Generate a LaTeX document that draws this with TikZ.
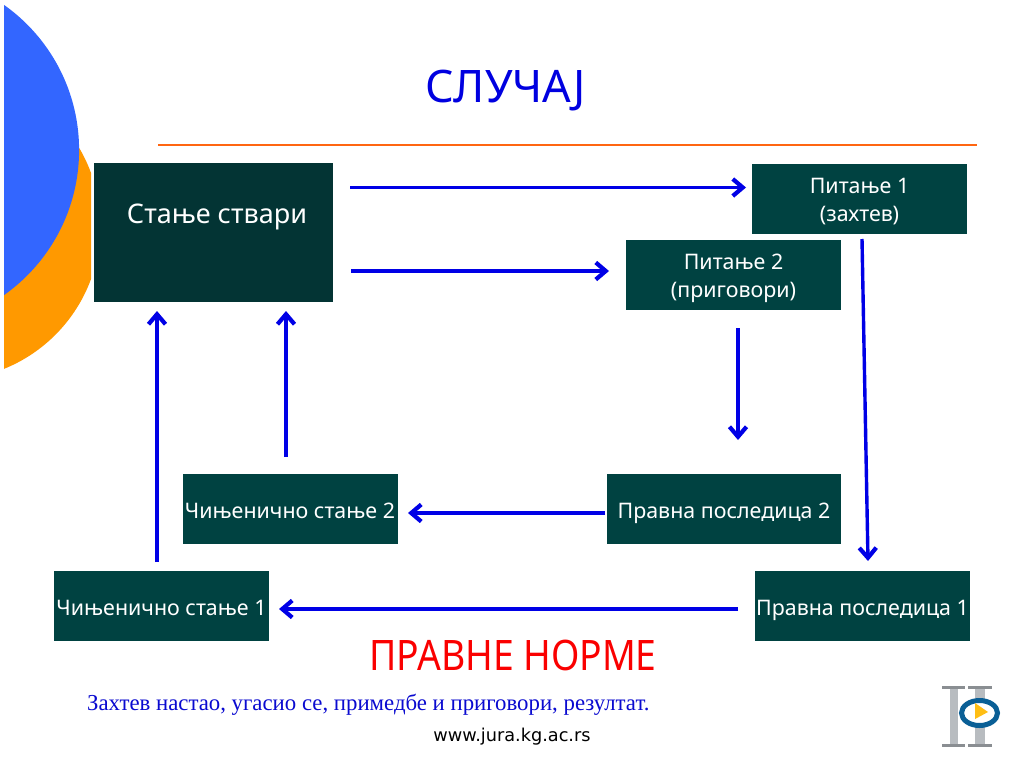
\documentclass[tikz,border=0pt]{standalone}
\usepackage{fontspec}
\setmainfont{Noto Sans}
\newfontfamily\serifcyr{Liberation Serif}
\newfontfamily\verdanaish{DejaVu Sans}
\usetikzlibrary{arrows.meta}
\definecolor{tealbox}{HTML}{004241}
\definecolor{darkbox}{HTML}{033434}
\definecolor{orangeblob}{HTML}{FF9900}
\definecolor{blueblob}{HTML}{3366FF}
\definecolor{ruleorange}{HTML}{FF6611}
\definecolor{arrowblue}{HTML}{0000E6}
\definecolor{titleblue}{HTML}{0000E0}
\definecolor{normred}{HTML}{FA0000}
\definecolor{notenavy}{HTML}{0A0AD0}
\definecolor{logoblue}{HTML}{0A5F96}
\definecolor{logogold}{HTML}{FFBE14}
\definecolor{logogray}{HTML}{B8BCC0}
\definecolor{logodark}{HTML}{8A8E92}
\newcommand{\dropone}{\rule[-6pt]{0pt}{30pt}}
\newcommand{\droptwo}{\rule{0pt}{22pt}}
\tikzset{
  flowbox/.style={fill=tealbox,text=white,minimum height=70pt,inner sep=0pt,align=center,font=\fontsize{21.4}{28}\selectfont,anchor=center},
  flow/.style={draw=arrowblue,line width=3.4pt,-{Straight Barb[length=10pt,width=17pt,line width=4.2pt]}},
}
\begin{document}
\begin{tikzpicture}[x=1pt,y=-1pt]
\useasboundingbox (0,0) rectangle (1024,768);
\fill[white] (0,0) rectangle (1024,768);
% decorative shapes
\begin{scope}
\clip (4,0) rectangle (91,768);
\fill[orangeblob] (-53.6,226) circle[radius=154];
\end{scope}
\begin{scope}
\clip (4,0) rectangle (200,768);
\fill[blueblob] (-98.6,150) circle[radius=177.7];
\end{scope}
% title and rule
\node[text=titleblue,font=\fontsize{44.8}{50}\selectfont] (title) at (505.5,91) {СЛУЧАЈ};
\coordinate (ruleL) at (158,145);
\coordinate (ruleR) at (977,145);
\draw[ruleorange,line width=2.4pt] (ruleL) -- (ruleR);
% boxes
\node[fill=darkbox,minimum width=239pt,minimum height=139pt,inner sep=0pt] (state) at (213.5,232.5) {};
\node[text=white,font=\fontsize{27}{32}\selectfont] (statetext) at (217,217) {Стање ствари};
\node[flowbox,minimum width=215pt] (q1) at (859.5,198.5) {\droptwo Питање 1\\(захтев)};
\node[flowbox,minimum width=215pt] (q2) at (733.5,275) {\droptwo Питање 2\\(приговори)};
\node[flowbox,minimum width=234pt] (l2) at (724,509) {\dropone Правна последица 2};
\node[flowbox,minimum width=215pt] (l1) at (862.5,606) {\dropone Правна последица 1};
\node[flowbox,minimum width=215pt] (f2) at (290,509) {\dropone Чињенично стање 2};
\node[flowbox,minimum width=215pt] (f1) at (161.5,606) {\dropone Чињенично стање 1};
% connectors
\coordinate (a1s) at (350,187.5);
\coordinate (a1e) at (746,187.5);
\coordinate (a2s) at (351,271);
\coordinate (a2e) at (609,271);
\coordinate (a3s) at (738,328);
\coordinate (a3e) at (738,440);
\coordinate (a4s) at (862,239);
\coordinate (a4e) at (868,561);
\coordinate (a5s) at (605,513);
\coordinate (a5e) at (408,513);
\coordinate (a6s) at (738,609);
\coordinate (a6e) at (279,609);
\coordinate (a7s) at (157,562);
\coordinate (a7e) at (157,311);
\coordinate (a8s) at (286,457);
\coordinate (a8e) at (286,311);
\foreach \i in {1,...,8} \draw[flow] (a\i s) -- (a\i e);
% labels
\node[text=normred,font=\fontsize{42}{48}\selectfont] (norms) at (513,655) {\scalebox{.888}[1]{ПРАВНЕ НОРМЕ}};
\node[text=notenavy,font=\serifcyr\fontsize{22.8}{27}\selectfont,anchor=west,inner sep=0pt] (note) at (87,705) {Захтев настао, угасио се, примедбе и приговори, резултат.};
\node[text=black,font=\verdanaish\fontsize{17.7}{20}\selectfont] (url) at (512,737) {www.jura.kg.ac.rs};
% logo
\fill[logogray] (950,689) -- (958,689) -- (958,744) -- (950,744) -- cycle;
\fill[logogray] (975,689) -- (985,689) -- (985,744) -- (975,744) -- cycle;
\fill[logodark] (942,686) rectangle (965,689);
\fill[logodark] (968,686) rectangle (992,689);
\fill[logodark] (942,744) rectangle (965,747);
\fill[logodark] (968,744) rectangle (992,747);
\draw[line width=5pt,draw=logoblue,fill=white] (979.5,713) ellipse[x radius=18,y radius=12.5];
\fill[logogold] (975,703) -- (988,712) -- (975,719) -- cycle;
\end{tikzpicture}
\end{document}
